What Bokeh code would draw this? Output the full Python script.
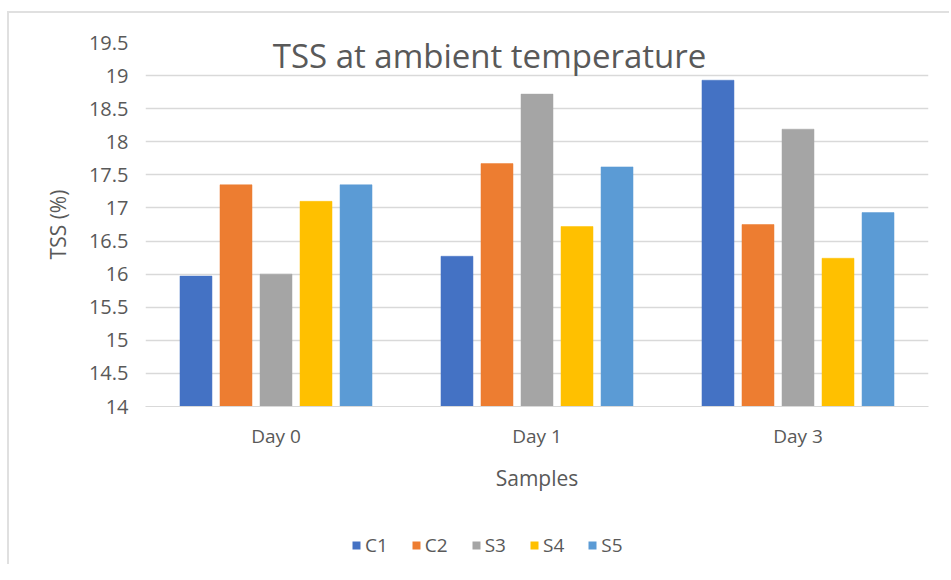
from bokeh.plotting import figure
from bokeh.layouts import column
from bokeh.models import (ColumnDataSource, FactorRange, Range1d, FixedTicker,
                          CustomJSTickFormatter, Legend, LegendItem, Label)
from bokeh.transform import dodge
from bokeh.embed import file_html
from bokeh.resources import INLINE

days = ["Day 0", "Day 1", "Day 3"]
series = ["C1", "C2", "S3", "S4", "S5"]
C1 = [15.97, 16.27, 18.93]
C2 = [17.35, 17.67, 16.75]
S3 = [16.00, 18.72, 18.19]
S4 = [17.10, 16.72, 16.24]
S5 = [17.35, 17.62, 16.93]
yticks = [14, 14.5, 15, 15.5, 16, 16.5, 17, 17.5, 18, 18.5, 19, 19.5]
colors = ["#4472C4", "#ED7D31", "#A5A5A5", "#FFC000", "#5B9BD5"]

FONT = "Open Sans"
GREY = "#595959"

src = ColumnDataSource(dict(day=days, C1=C1, C2=C2, S3=S3, S4=S4, S5=S5))

p = figure(width=940, height=507, x_range=FactorRange(*days, range_padding=0),
           y_range=Range1d(14, 19.5), output_backend="svg", toolbar_location=None,
           min_border_left=136, min_border_right=21, min_border_top=29,
           min_border_bottom=114)

step = 0.1533
width = 0.1226
for i, (s, c) in enumerate(zip(series, colors)):
    p.vbar(x=dodge("day", (i - 2) * step, range=p.x_range), top=s, bottom=14,
           width=width, source=src, fill_color=c, line_color=c, line_width=0.5)

p.yaxis.ticker = FixedTicker(ticks=yticks)
p.yaxis.formatter = CustomJSTickFormatter(code="return tick.toString();")
p.yaxis.axis_line_color = None
p.yaxis.major_tick_line_color = None
p.yaxis.minor_tick_line_color = None
p.yaxis.major_label_standoff = 11
p.yaxis.axis_label = "TSS (%)"
p.yaxis.axis_label_standoff = 14

p.xaxis.axis_label = "Samples"
p.xaxis.axis_line_color = "#d9d9d9"
p.xaxis.major_tick_line_color = None
p.xaxis.minor_tick_line_color = None
p.xaxis.major_label_standoff = 10
p.xaxis.axis_label_standoff = 12

for ax in (p.xaxis, p.yaxis):
    ax.major_label_text_font = FONT
    ax.major_label_text_font_size = "20px"
    ax.major_label_text_color = GREY
    ax.axis_label_text_font = FONT
    ax.axis_label_text_font_size = "21px"
    ax.axis_label_text_font_style = "normal"
    ax.axis_label_text_color = GREY
p.xaxis.major_label_text_font_size = "19px"

p.xgrid.grid_line_color = None
p.ygrid.grid_line_color = "#d9d9d9"
p.ygrid.grid_line_width = 1.5
p.outline_line_color = None

title = Label(x=1.318, y=19.30, text="TSS at ambient temperature",
              text_align="center", text_baseline="middle",
              text_font=FONT, text_font_size="33px", text_color=GREY)
p.add_layout(title)

# legend strip below the chart (its proxy bars have zero width, so draw nothing)
p2 = figure(width=940, height=44, x_range=FactorRange(*days), y_range=Range1d(0, 1),
            output_backend="svg", toolbar_location=None,
            x_axis_type=None, y_axis_type=None, min_border=0)
p2.xgrid.grid_line_color = None
p2.ygrid.grid_line_color = None
p2.outline_line_color = None
items = []
for s, c in zip(series, colors):
    r = p2.vbar(x="day", top=s, bottom=14, width=0, source=src,
                fill_color=c, line_color=None)
    items.append(LegendItem(label=s, renderers=[r]))
legend = Legend(items=items, orientation="horizontal", location=(206, 6),
                glyph_width=10, glyph_height=10, label_standoff=4, spacing=23,
                padding=0, margin=0, border_line_color=None,
                background_fill_alpha=0, label_text_font=FONT,
                label_text_font_size="19px", label_text_color=GREY)
p2.add_layout(legend, "center")

layout = column(p, p2, spacing=0,
                styles={"margin-left": "7px", "margin-top": "11px",
                        "border-left": "2px solid #e0e0e0",
                        "border-top": "2px solid #e0e0e0"})
open("out.html", "w").write(file_html(layout, INLINE))
